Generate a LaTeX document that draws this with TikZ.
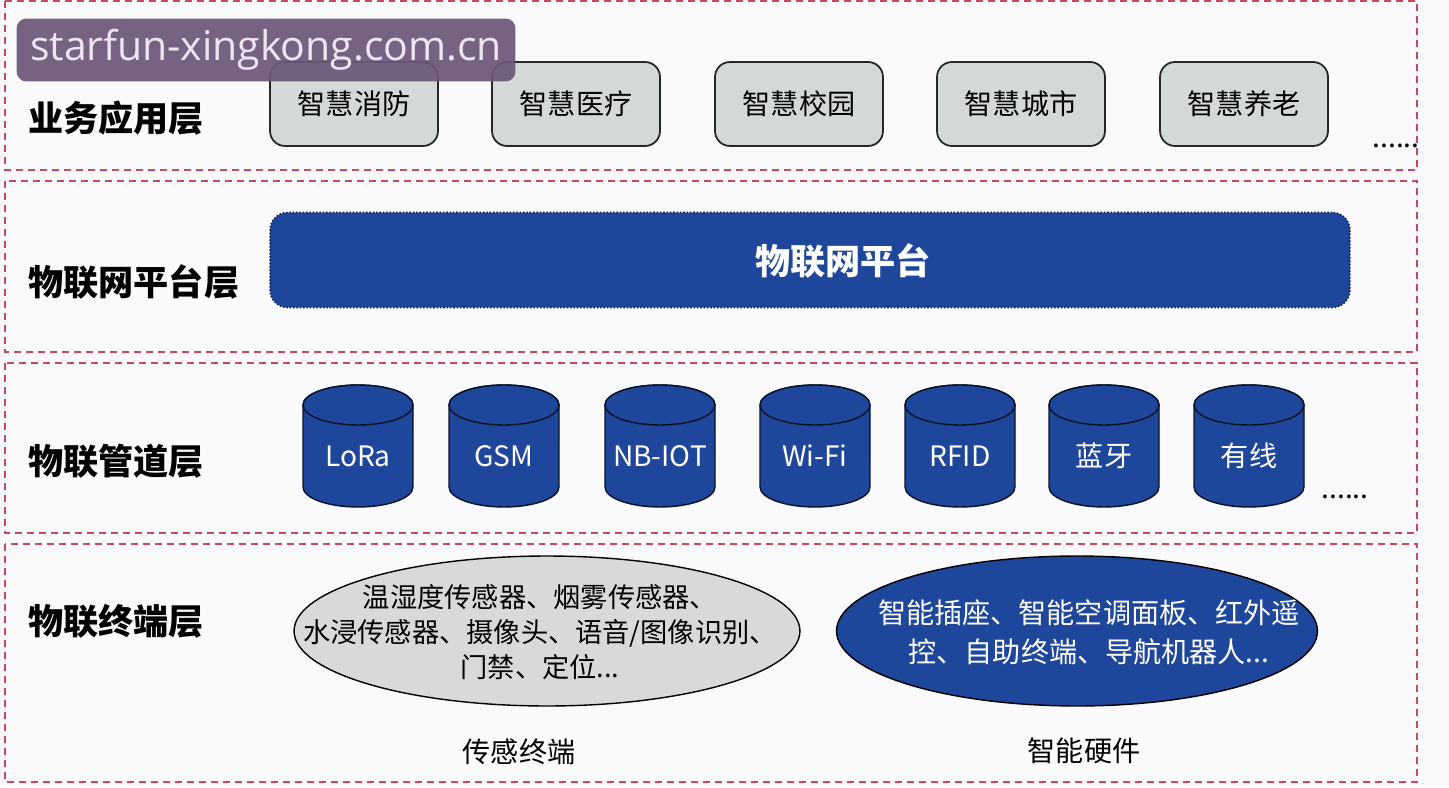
\documentclass[tikz,border=0pt]{standalone}
\usepackage{fontspec}
\setmainfont{Noto Sans CJK SC}
\newfontfamily\wmfont{Open Sans}
\usetikzlibrary{shapes.geometric}
\definecolor{pagebg}{RGB}{250,250,252}
\definecolor{iotblue}{RGB}{30,71,155}
\definecolor{boxgray}{RGB}{212,216,216}
\definecolor{ovalgray}{RGB}{216,218,218}
\definecolor{dashred}{RGB}{200,72,92}
\definecolor{wmpurple}{RGB}{108,86,120}
\definecolor{wmtext}{RGB}{238,228,244}
\tikzset{
  layer/.style={draw=dashred, line width=0.6pt, dash pattern=on 0.14cm off 0.1cm},
  tag/.style={font=\fontsize{20}{24}\selectfont\bfseries, anchor=west, inner sep=0pt},
  app/.style={draw=black!85, line width=1pt, fill=boxgray, rounded corners=0.3cm, minimum width=3.36cm, minimum height=1.68cm, inner sep=0pt, font=\fontsize{16}{19}\selectfont},
  platform/.style={draw=iotblue!45!black, densely dotted, line width=0.9pt, fill=iotblue, rounded corners=0.35cm, minimum width=21.6cm, minimum height=1.9cm},
  platformtext/.style={text=white, font=\fontsize{20}{24}\selectfont\bfseries, inner sep=0pt},
  drumbody/.style={draw=black!75!iotblue, line width=0.8pt, fill=iotblue},
  drumtext/.style={text=white, inner sep=0pt, font=\fontsize{16}{19}\selectfont},
  pics/drum/.style={code={
    \draw[drumbody] (-55,405) -- (-55,487) arc[start angle=180, end angle=360, x radius=1.1cm, y radius=0.4cm] -- (55,405) arc[start angle=0, end angle=180, x radius=1.1cm, y radius=0.4cm] -- cycle;
    \draw[drumbody] (0,405) ellipse[x radius=1.1cm, y radius=0.4cm];
    \node[drumtext] (-t) at (0,456) {#1};
  }},
  oval/.style={ellipse, draw=black, line width=0.8pt, inner sep=0pt, minimum height=3cm},
  greyoval/.style={oval, fill=ovalgray, minimum width=10.12cm},
  blueoval/.style={oval, fill=iotblue, minimum width=9.62cm},
  greytext/.style={inner sep=0pt, align=center, font=\fontsize{15.5}{19.8}\selectfont},
  bluetext/.style={inner sep=0pt, align=center, text=white, font=\fontsize{16}{22}\selectfont},
  caption/.style={inner sep=0pt, font=\fontsize{16}{19}\selectfont},
  more/.style={inner sep=0pt, font=\fontsize{16}{19}\selectfont},
  watermark/.style={fill=wmpurple, fill opacity=0.92, text opacity=1, text=wmtext, rounded corners=0.2cm, minimum width=9.98cm, minimum height=1.26cm, inner sep=0pt, font=\wmfont\fontsize{23.3}{28}\selectfont}
}

\begin{document}
\begin{tikzpicture}[x=0.02cm, y=-0.02cm]
  \path[use as bounding box, fill=pagebg] (0,0) rectangle (1449,787);

  \draw[layer] (5,1) rectangle (1417,170);
  \draw[layer] (5,181) rectangle (1417,352);
  \draw[layer] (5,363) rectangle (1417,533);
  \draw[layer] (5,544) rectangle (1417,782);

  \node[tag] (tag-app) at (28,118) {业务应用层};
  \node[tag] (tag-plat) at (28,282) {物联网平台层};
  \node[tag] (tag-pipe) at (28,461) {物联管道层};
  \node[tag] (tag-term) at (28,621) {物联终端层};

  \node[app] (fire) at (354,104) {智慧消防};
  \node[app] (med) at (576,104) {智慧医疗};
  \node[app] (campus) at (799,104) {智慧校园};
  \node[app] (city) at (1021,104) {智慧城市};
  \node[app] (aged) at (1244,104) {智慧养老};
  \node[more] (app-more) at (1396,146) {......};

  \node[platform] (plat) at (810,260) {};
  \node[platformtext] (plat-t) at (843,261) {物联网平台};

  \pic (lora) at (358,0) {drum=LoRa};
  \pic (gsm) at (504,0) {drum=GSM};
  \pic (nbiot) at (660,0) {drum=NB-IOT};
  \pic (wifi) at (815,0) {drum=Wi-Fi};
  \pic (rfid) at (960,0) {drum=RFID};
  \pic (bt) at (1104,0) {drum=蓝牙};
  \pic (wire) at (1249,0) {drum=有线};
  \node[more] (pipe-more) at (1345,497) {......};

  \node[greyoval] (sense) at (547,631) {};
  \node[greytext] (sense-t) at (540,632) {温湿度传感器、烟雾传感器、\\水浸传感器、摄像头、语音/图像识别、\\门禁、定位...};
  \node[blueoval] (smart) at (1077,631) {};
  \node[bluetext] (smart-t) at (1089,632) {智能插座、智能空调面板、红外遥\\控、自助终端、导航机器人...};
  \node[caption] (sense-cap) at (519,752) {传感终端};
  \node[caption] (smart-cap) at (1084,751) {智能硬件};

  \node[watermark] (wm) at (266,50) {starfun-xingkong.com.cn};
\end{tikzpicture}
\end{document}
